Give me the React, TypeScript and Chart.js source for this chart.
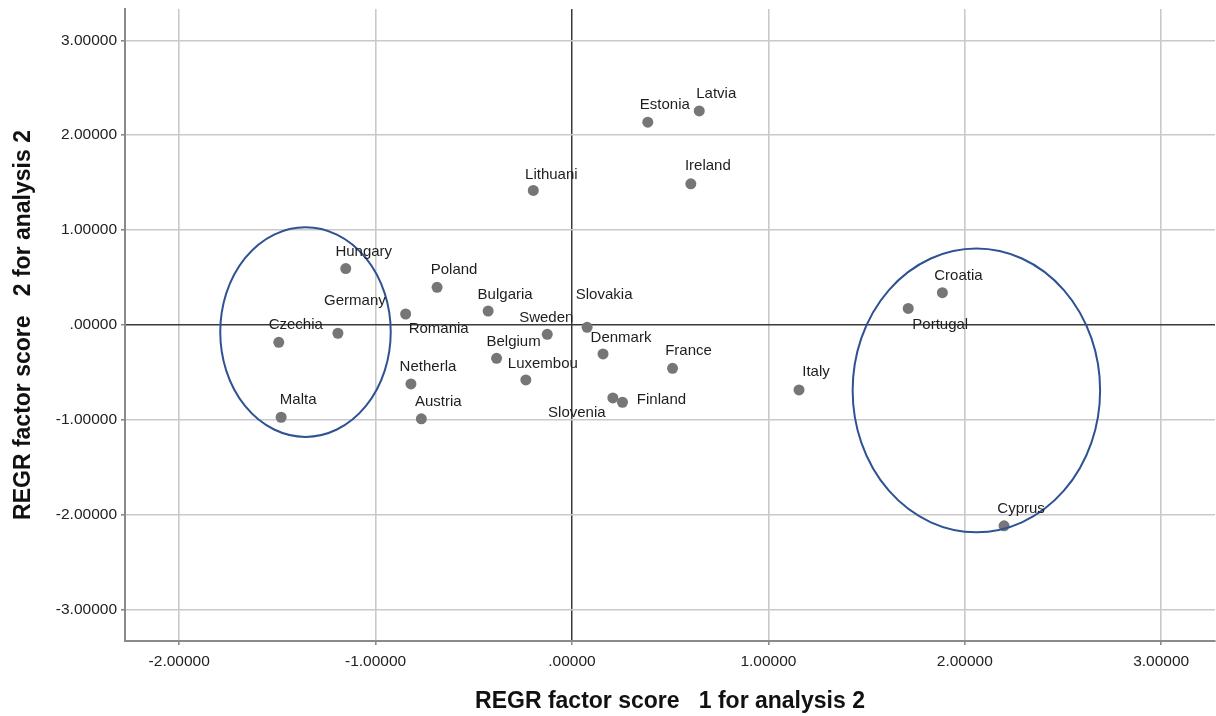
import { useEffect, useRef } from 'react';
import { Chart, registerables } from 'chart.js';

Chart.register(...registerables);

const countries = ['Latvia', 'Estonia', 'Ireland', 'Lithuani', 'Hungary', 'Poland', 'Germany', 'Czechia', 'Romania', 'Bulgaria', 'Sweden', 'Slovakia', 'Denmark', 'Belgium', 'Luxembou', 'Netherla', 'Malta', 'Austria', 'Slovenia', 'Finland', 'France', 'Italy', 'Croatia', 'Portugal', 'Cyprus'];
const factor1 = [0.648, 0.386, 0.605, -0.197, -1.152, -0.687, -1.192, -1.493, -0.847, -0.427, -0.126, 0.077, 0.158, -0.384, -0.235, -0.820, -1.481, -0.767, 0.208, 0.257, 0.512, 1.156, 1.886, 1.712, 2.200];
const factor2 = [2.256, 2.137, 1.488, 1.418, 0.595, 0.397, -0.087, -0.182, 0.116, 0.147, -0.098, -0.024, -0.305, -0.351, -0.579, -0.621, -0.972, -0.989, -0.768, -0.814, -0.456, -0.684, 0.340, 0.175, -2.116];

// label placement relative to each point (pixels)
const labelOffsets: [number, number][] = [
  [17, -17], [17, -17], [17, -18], [18, -16], [18, -17], [17, -17], [17, -32], [17, -17],
  [33, 15], [17, -16], [-1, -16], [17, -32], [18, -16], [17, -16], [17, -16], [17, -17],
  [17, -17], [17, -17], [-36, 15], [39, -2], [16, -17], [17, -18], [16, -17], [32, 16], [17, -17],
];

const xTicks = [-2, -1, 0, 1, 2, 3];
const yTicks = [-3, -2, -1, 0, 1, 2, 3];

// highlighted groups (data units)
const ellipseCenterX = [-1.357, 2.059];
const ellipseCenterY = [-0.074, -0.689];
const ellipseRadiusX = [0.434, 0.63];
const ellipseRadiusY = [1.105, 1.495];

const FONT = '"Liberation Sans", Arial, Helvetica, sans-serif';

const fmt = (v: number) => {
  if (v === 0) return '.00000';
  return v.toFixed(5);
};

const overlay = {
  id: 'overlay',
  afterDatasetsDraw(chart: any) {
    const { ctx } = chart;
    const x = chart.scales.x;
    const y = chart.scales.y;
    ctx.save();
    ctx.strokeStyle = '#2f5293';
    ctx.lineWidth = 2;
    for (let i = 0; i < ellipseCenterX.length; i++) {
      const cx = x.getPixelForValue(ellipseCenterX[i]);
      const cy = y.getPixelForValue(ellipseCenterY[i]);
      const rx = x.getPixelForValue(ellipseCenterX[i] + ellipseRadiusX[i]) - cx;
      const ry = cy - y.getPixelForValue(ellipseCenterY[i] + ellipseRadiusY[i]);
      ctx.beginPath();
      ctx.ellipse(cx, cy, rx, ry, 0, 0, Math.PI * 2);
      ctx.stroke();
    }
    ctx.font = `15px ${FONT}`;
    ctx.fillStyle = '#1e1e1e';
    ctx.textAlign = 'center';
    ctx.textBaseline = 'middle';
    const meta = chart.getDatasetMeta(0);
    meta.data.forEach((pt: any, i: number) => {
      const [dx, dy] = labelOffsets[i];
      ctx.fillText(countries[i], pt.x + dx, pt.y + dy);
    });
    ctx.restore();
  },
};

export default function App() {
  const ref = useRef<HTMLCanvasElement>(null);
  useEffect(() => {
    if (!ref.current) return;
    const data = factor1.map((v, i) => ({ x: v, y: factor2[i] }));
    const gridColor = (c: any) => (c.tick && c.tick.value === 0 ? '#3a3a3a' : '#c9c9c9');
    const gridWidth = (c: any) => (c.tick && c.tick.value === 0 ? 1.5 : 1.6);
    const chart = new Chart(ref.current, {
      type: 'scatter',
      data: {
        datasets: [
          {
            data,
            backgroundColor: '#767676',
            borderWidth: 0,
            pointRadius: 5.5,
            pointHoverRadius: 5.5,
          },
        ],
      },
      options: {
        responsive: false,
        animation: false,
        events: [],
        layout: { autoPadding: false, padding: { top: 9, right: 1, left: 0, bottom: 0 } },
        plugins: { legend: { display: false }, tooltip: { enabled: false } },
        scales: {
          x: {
            type: 'linear',
            min: -2.276,
            max: 3.274,
            afterBuildTicks: (s: any) => {
              s.ticks = xTicks.map((v) => ({ value: v }));
            },
            afterFit: (s: any) => {
              s.height = 75;
              s.paddingLeft = 0;
              s.paddingRight = 0;
            },
            grid: { color: gridColor, lineWidth: gridWidth, drawTicks: true, tickLength: 4, tickColor: '#8a8a8a' },
            border: { display: true, color: '#8a8a8a', width: 2 },
            ticks: { padding: 7, color: '#222', font: { family: FONT, size: 15.5 }, callback: (v: any) => fmt(Number(v)), maxRotation: 0 },
            title: {
              display: true,
              text: 'REGR factor score   1 for analysis 2',
              color: '#111',
              font: { family: FONT, size: 23, weight: 'bold' },
              padding: { top: 4, bottom: 1 },
            },
          },
          y: {
            type: 'linear',
            min: -3.33,
            max: 3.33,
            afterBuildTicks: (s: any) => {
              s.ticks = yTicks.map((v) => ({ value: v }));
            },
            afterFit: (s: any) => {
              s.width = 125;
              s.paddingTop = 0;
              s.paddingBottom = 0;
            },
            grid: { color: gridColor, lineWidth: gridWidth, drawTicks: true, tickLength: 4, tickColor: '#8a8a8a' },
            border: { display: true, color: '#8a8a8a', width: 2 },
            ticks: { padding: 4, color: '#222', font: { family: FONT, size: 15.5 }, callback: (v: any) => fmt(Number(v)) },
            title: {
              display: true,
              text: 'REGR factor score   2 for analysis 2',
              color: '#111',
              font: { family: FONT, size: 23, weight: 'bold' },
              padding: { top: 10, bottom: 4 },
            },
          },
        },
      },
      plugins: [overlay],
    });
    return () => chart.destroy();
  }, []);
  return (
    <div style={{ position: 'absolute', left: 0, top: 0, width: 1216, height: 716, background: '#fff' }}>
      <canvas ref={ref} width={1216} height={716} />
    </div>
  );
}
